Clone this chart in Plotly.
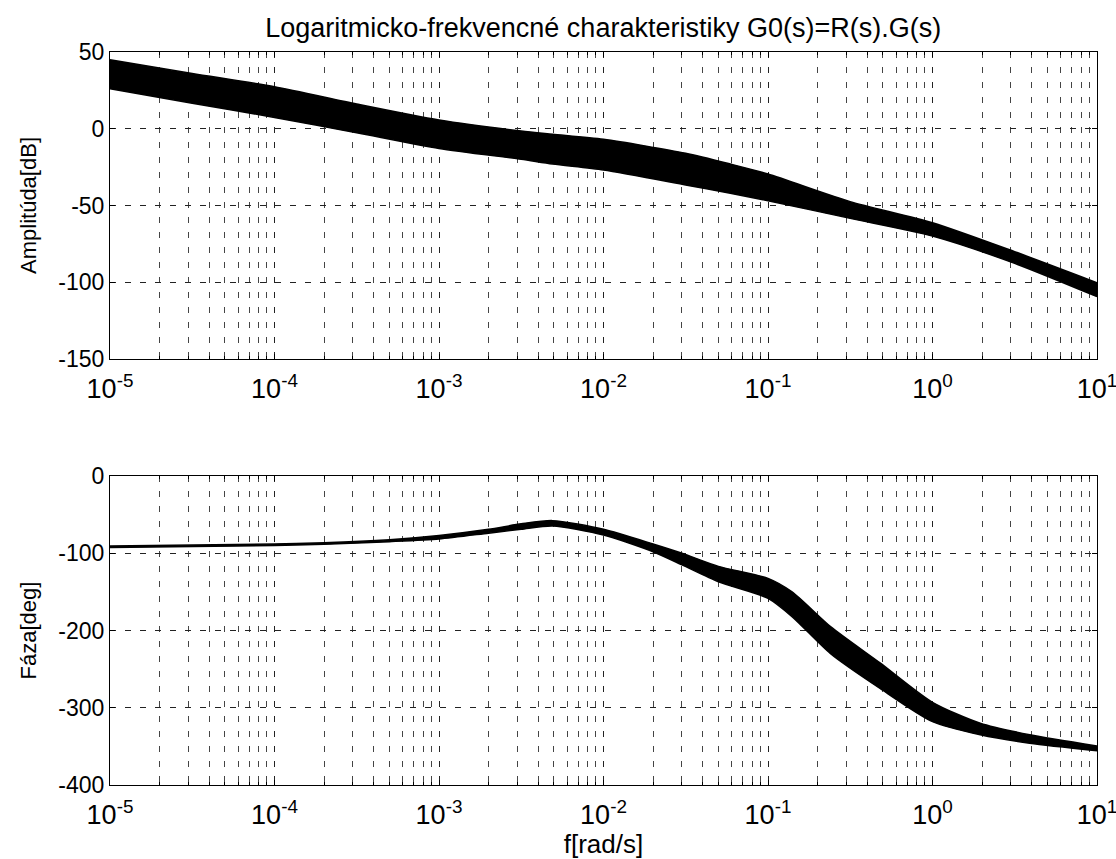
import plotly.graph_objects as go
from plotly.subplots import make_subplots

# amplitude band (upper / lower envelope), dB
amp_f = [1e-5, 3.16e-5, 1e-4, 3.16e-4, 1e-3, 3.16e-3, 4.9e-3, 1e-2, 3.16e-2, 5.9e-2, 1e-1, 3.16e-1, 1, 3.16, 10]
amp_hi = [45, 36, 27.4, 16.1, 5.7, -1.5, -3.6, -6.9, -16, -23, -29.5, -47.5, -61.2, -80.1, -100.3]
amp_lo = [26, 16.6, 7.4, -2.6, -12.8, -19.9, -23, -26.9, -36.6, -42, -46.9, -58.4, -69.9, -87.7, -109.4]

# phase band (upper / lower envelope), deg
ph_f = [1e-5, 1e-4, 2e-4, 5e-4, 1e-3, 2e-3, 3.16e-3, 4.9e-3, 1e-2, 2e-2, 3e-2, 5e-2, 0.1, 0.14, 0.24, 0.48, 1, 1.95, 3.9, 10]
ph_hi = [-90.5, -88, -86.5, -82.5, -77, -69, -62, -57.8, -69, -88, -100, -117, -132.5, -150, -195, -242, -293, -320, -335, -349.5]
ph_lo = [-92.5, -90, -88.5, -85, -81.5, -74, -69, -64.7, -76.4, -98, -115, -137, -158.4, -182, -230, -275, -318, -335, -346, -355.6]

# axis ticks
decades = [-5, -4, -3, -2, -1, 0, 1]
x_ticks = [10.0 ** d for d in decades]
x_labels = ['10<sup>%d</sup>' % d for d in decades]
x_minor = [m * 10.0 ** d for d in decades[:-1] for m in range(2, 10)]
amp_ticks = [50, 0, -50, -100, -150]
ph_ticks = [0, -100, -200, -300, -400]

fig = make_subplots(rows=2, cols=1, vertical_spacing=0.16)

for f, lo, hi, r in [(amp_f, amp_lo, amp_hi, 1), (ph_f, ph_lo, ph_hi, 2)]:
    fig.add_trace(go.Scatter(x=f, y=lo, mode='lines', line=dict(color='black', width=1.5, shape='spline', smoothing=0.7),
                             showlegend=False, hoverinfo='skip'), row=r, col=1)
    fig.add_trace(go.Scatter(x=f, y=hi, mode='lines', line=dict(color='black', width=1.5, shape='spline', smoothing=0.7),
                             fill='tonexty', fillcolor='black', showlegend=False), row=r, col=1)

fam = "Liberation Sans, Arial, sans-serif"
font = dict(family=fam, size=23, color='black')

xax = dict(type='log', range=[-5, 1], tickmode='array', tickvals=x_ticks, ticktext=x_labels,
           showline=True, linecolor='black', linewidth=1, mirror='allticks', automargin=False,
           ticklabeloverflow='allow',
           ticks='inside', ticklen=5, tickcolor='black', ticklabelstandoff=6,
           showgrid=True, gridcolor='#222', griddash='6px,9px', gridwidth=1,
           minor=dict(tickmode='array', tickvals=x_minor, ticks='inside', ticklen=3, tickcolor='black',
                      showgrid=True, gridcolor='#444', griddash='6px,9px', gridwidth=1),
           tickfont=dict(family=fam, size=27, color='black'), zeroline=False)
yax = dict(showline=True, linecolor='black', linewidth=1, mirror='allticks', automargin=False,
           ticks='inside', ticklen=5, tickcolor='black', tickmode='array',
           showgrid=True, gridcolor='#222', griddash='6px,9px', gridwidth=1,
           tickfont=font, zeroline=False)

fig.update_xaxes(**xax)
fig.update_yaxes(**yax)
fig.update_yaxes(range=[-150, 50], tickvals=amp_ticks, ticktext=[str(v) for v in amp_ticks],
                 title=dict(text='Amplitúda[dB]', font=dict(size=22, family=fam)), row=1, col=1)
fig.update_yaxes(range=[-400, 0], tickvals=ph_ticks, ticktext=[str(v) for v in ph_ticks],
                 title=dict(text='Fáza[deg]', font=dict(size=22, family=fam)), row=2, col=1)
fig.update_xaxes(title=dict(text='f[rad/s]', font=dict(size=26, family=fam), standoff=12), row=2, col=1)

fig.update_layout(
    width=1116, height=859,
    margin=dict(l=110, r=19, t=52, b=74),
    paper_bgcolor='white', plot_bgcolor='white',
    font=font,
    title=dict(text='Logaritmicko-frekvencné charakteristiky G0(s)=R(s).G(s)',
               x=0.5405, xanchor='center', y=1 - 28 / 859, yanchor='middle',
               font=dict(size=27, family=fam)),
)
fig.layout.yaxis.domain = [0.5812, 1]
fig.layout.yaxis2.domain = [0, 0.4216]

fig.write_html("out.html", config={'displayModeBar': False},
               post_script="document.body.style.margin='0';")
